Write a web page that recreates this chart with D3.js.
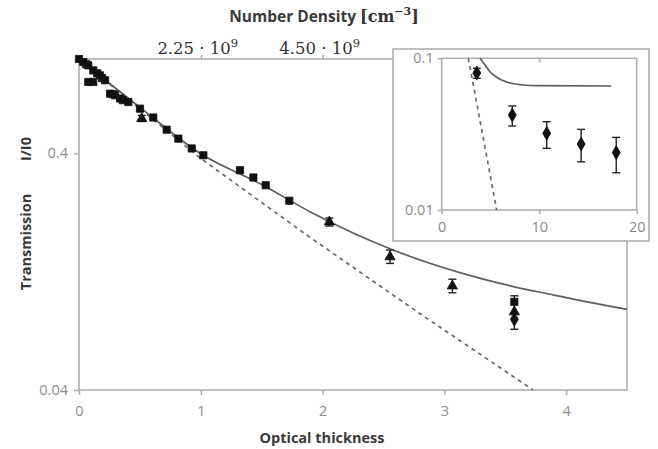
<!DOCTYPE html>
<meta charset="utf-8">
<style>
    body { margin: 0; background: #fff; }
    .tick text { font: 14.5px "Open Sans", sans-serif; fill: #8c8c8c; }
    .lbl { font: bold 14.5px "Open Sans", sans-serif; fill: #3a3a3a; }
    .serif { font-family: "DejaVu Serif", "Liberation Serif", serif; fill: #333; }
</style>
<svg width="658" height="449"></svg>
<script src="https://d3js.org/d3.v7.min.js"></script>
<script>
    // main panel data (optical thickness, I/I0)
    var squares = [[0, 1.0], [0.035, 0.97], [0.06, 0.95], [0.076, 0.94], [0.117, 0.895], [0.15, 0.87],
        [0.172, 0.853], [0.19, 0.83], [0.214, 0.813], [0.076, 0.80], [0.117, 0.80], [0.255, 0.714],
        [0.28, 0.71], [0.296, 0.703], [0.337, 0.681], [0.36, 0.67], [0.405, 0.658], [0.501, 0.617],
        [0.61, 0.566], [0.72, 0.503], [0.816, 0.461], [0.926, 0.419], [1.021, 0.392], [1.322, 0.339],
        [1.432, 0.316], [1.533, 0.293], [1.727, 0.252], [3.575, 0.0943]];
    var triangles = [[0.515, 0.56], [2.056, 0.205], [2.554, 0.146], [3.066, 0.110], [3.575, 0.0855]];
    var diamonds = [[3.575, 0.0795]];
    // error bars: x, low, high
    var errBars = [[0.515, 0.545, 0.578], [2.056, 0.197, 0.213], [2.554, 0.137, 0.156],
        [3.066, 0.103, 0.1175], [3.575, 0.0722, 0.1]];
    var modelCurve = [[0, 1.0], [0.5, 0.625], [1.0, 0.398], [1.5, 0.295], [1.9, 0.226], [2.58, 0.156],
        [3.35, 0.1164], [3.9, 0.1007], [4.5, 0.0876]];
    var beerLambert = [[0, 1.0], [1.0, 0.38], [1.9, 0.176], [2.8, 0.084], [3.73, 0.04]];
    var xTicks = [0, 1, 2, 3, 4];
    var yTicks = [0.04, 0.4];
    var densityTicks = [[1, "2.25"], [2, "4.50"]];

    // inset data
    var insetPts = [[3.6, 0.080, 0.0738, 0.086], [7.24, 0.0423, 0.0358, 0.0485], [10.77, 0.032, 0.0255, 0.0382],
        [14.3, 0.0272, 0.0208, 0.034], [17.9, 0.0239, 0.0176, 0.0301]];
    var insetCurve = [[3.93, 0.1], [4.44, 0.0903], [4.95, 0.0816], [5.47, 0.0764], [5.98, 0.0727],
        [6.67, 0.0698], [7.35, 0.068], [8.37, 0.0667], [9.74, 0.066], [17.4, 0.0657]];
    var insetDashed = [[2.73, 0.1], [5.64, 0.01]];
    var insetXTicks = [0, 10, 20];
    var insetYTicks = [0.01, 0.1];

    var svg = d3.select("svg");
    var axisColor = "#b0b0b0";

    var x = d3.scaleLinear().domain([0, 4.5]).range([79, 627]);
    var y = d3.scaleLog().domain([0.04, 1]).range([390, 59]);

    // frame
    svg.append("rect").attr("x", x(0)).attr("y", y(1)).attr("width", x(4.5) - x(0)).attr("height", y(0.04) - y(1))
        .attr("fill", "none").attr("stroke", axisColor).attr("stroke-width", 1.6);

    var gx = svg.append("g").attr("transform", "translate(0," + y(0.04) + ")")
        .call(d3.axisBottom(x).tickValues(xTicks).tickSize(5).tickPadding(11).tickFormat(d3.format("d")));
    var gy = svg.append("g").attr("transform", "translate(" + x(0) + ",0)")
        .call(d3.axisLeft(y).tickValues(yTicks).tickSize(5).tickPadding(6).tickFormat(function (d) { return d; }));
    var gt = svg.append("g").attr("transform", "translate(0," + y(1) + ")")
        .call(d3.axisTop(x).tickValues(densityTicks.map(function (d) { return d[0]; })).tickSize(4).tickFormat(""));
    [gx, gy, gt].forEach(function (g) {
        g.select(".domain").remove();
        g.selectAll(".tick line").attr("stroke", axisColor).attr("stroke-width", 1.6);
    });

    densityTicks.forEach(function (t) {
        var txt = svg.append("text").attr("class", "serif").attr("x", x(t[0]) - 3).attr("y", 54)
            .attr("text-anchor", "middle").style("font-size", "16.5px");
        txt.append("tspan").text(t[1] + " \u00b7 10");
        txt.append("tspan").attr("dy", -7).style("font-size", "11.5px").text("9");
    });

    var line = d3.line().x(function (d) { return x(d[0]); }).y(function (d) { return y(d[1]); });

    svg.append("path").datum(beerLambert).attr("d", line.curve(d3.curveLinear))
        .attr("fill", "none").attr("stroke", "#6a6a6a").attr("stroke-width", 1.7).attr("stroke-dasharray", "4,4");
    svg.append("path").datum(modelCurve).attr("d", line.curve(d3.curveMonotoneX))
        .attr("fill", "none").attr("stroke", "#5e5e5e").attr("stroke-width", 1.7);

    function drawErr(g, data, xs, ys, cap) {
        var e = g.selectAll(null).data(data).enter().append("g").attr("stroke", "#222").attr("stroke-width", 1.4);
        e.append("line").attr("x1", function (d) { return xs(d[0]); }).attr("x2", function (d) { return xs(d[0]); })
            .attr("y1", function (d) { return ys(d[1]); }).attr("y2", function (d) { return ys(d[2]); });
        e.append("line").attr("x1", function (d) { return xs(d[0]) - cap; }).attr("x2", function (d) { return xs(d[0]) + cap; })
            .attr("y1", function (d) { return ys(d[1]); }).attr("y2", function (d) { return ys(d[1]); });
        e.append("line").attr("x1", function (d) { return xs(d[0]) - cap; }).attr("x2", function (d) { return xs(d[0]) + cap; })
            .attr("y1", function (d) { return ys(d[2]); }).attr("y2", function (d) { return ys(d[2]); });
    }
    drawErr(svg, errBars, x, y, 4);

    function drawSym(g, data, type, size, xs, ys) {
        g.selectAll(null).data(data).enter().append("path")
            .attr("d", d3.symbol().type(type).size(size))
            .attr("transform", function (d) { return "translate(" + xs(d[0]) + "," + ys(d[1]) + ")"; })
            .attr("fill", "#111").attr("stroke", "#111").attr("stroke-width", 0.8).attr("stroke-linejoin", "round");
    }
    drawSym(svg, squares, d3.symbolSquare, 52, x, y);
    drawSym(svg, triangles, d3.symbolTriangle, 46, x, y);
    drawSym(svg, diamonds, d3.symbolDiamond, 55, x, y);

    // labels
    svg.append("text").attr("class", "lbl").attr("x", 322).attr("y", 443).attr("text-anchor", "middle").text("Optical thickness");
    svg.append("text").attr("class", "lbl").attr("transform", "translate(31,242) rotate(-90)").attr("text-anchor", "middle").text("Transmission");
    svg.append("text").attr("class", "lbl").attr("transform", "translate(31,149) rotate(-90)").attr("text-anchor", "middle").text("I/I0");
    var title = svg.append("text").attr("x", 324).attr("y", 22).attr("text-anchor", "middle");
    title.append("tspan").attr("class", "lbl").style("font-size", "15.5px").text("Number Density ");
    title.append("tspan").attr("class", "serif").style("font-size", "16px").style("font-weight", "bold").text("[cm");
    title.append("tspan").attr("class", "serif").attr("dy", -7).style("font-size", "11px").style("font-weight", "bold").text("\u22123");
    title.append("tspan").attr("class", "serif").attr("dy", 7).style("font-size", "16px").style("font-weight", "bold").text("]");

    // inset
    svg.append("rect").attr("x", 393).attr("y", 49).attr("width", 256).attr("height", 192)
        .attr("fill", "#fff").attr("stroke", axisColor).attr("stroke-width", 1.6);
    var ix = d3.scaleLinear().domain([0, 20]).range([441.7, 636.7]);
    var iy = d3.scaleLog().domain([0.01, 0.1]).range([210, 58.3]);
    var inset = svg.append("g");
    inset.append("rect").attr("x", ix(0)).attr("y", iy(0.1)).attr("width", ix(20) - ix(0)).attr("height", iy(0.01) - iy(0.1))
        .attr("fill", "none").attr("stroke", axisColor).attr("stroke-width", 1.6);
    var igx = inset.append("g").attr("transform", "translate(0," + iy(0.01) + ")")
        .call(d3.axisBottom(ix).tickValues(insetXTicks).tickSize(4).tickPadding(8).tickFormat(d3.format("d")));
    var igy = inset.append("g").attr("transform", "translate(" + ix(0) + ",0)")
        .call(d3.axisLeft(iy).tickValues(insetYTicks).tickSize(4).tickPadding(4).tickFormat(function (d) { return d; }));
    var igt = inset.append("g").attr("transform", "translate(0," + iy(0.1) + ")")
        .call(d3.axisBottom(ix).tickValues([10]).tickSize(4).tickFormat(""));
    [igx, igy, igt].forEach(function (g) {
        g.select(".domain").remove();
        g.selectAll(".tick line").attr("stroke", axisColor).attr("stroke-width", 1.6);
    });

    var iline = d3.line().x(function (d) { return ix(d[0]); }).y(function (d) { return iy(d[1]); });
    inset.append("path").datum(insetDashed).attr("d", iline)
        .attr("fill", "none").attr("stroke", "#6a6a6a").attr("stroke-width", 1.7).attr("stroke-dasharray", "4,4");
    inset.append("path").datum(insetCurve).attr("d", iline.curve(d3.curveMonotoneX))
        .attr("fill", "none").attr("stroke", "#5e5e5e").attr("stroke-width", 1.7);
    drawErr(inset, insetPts.map(function (d) { return [d[0], d[2], d[3]]; }), ix, iy, 4);
    drawSym(inset, insetPts, d3.symbolDiamond, 55, ix, iy);
</script>
